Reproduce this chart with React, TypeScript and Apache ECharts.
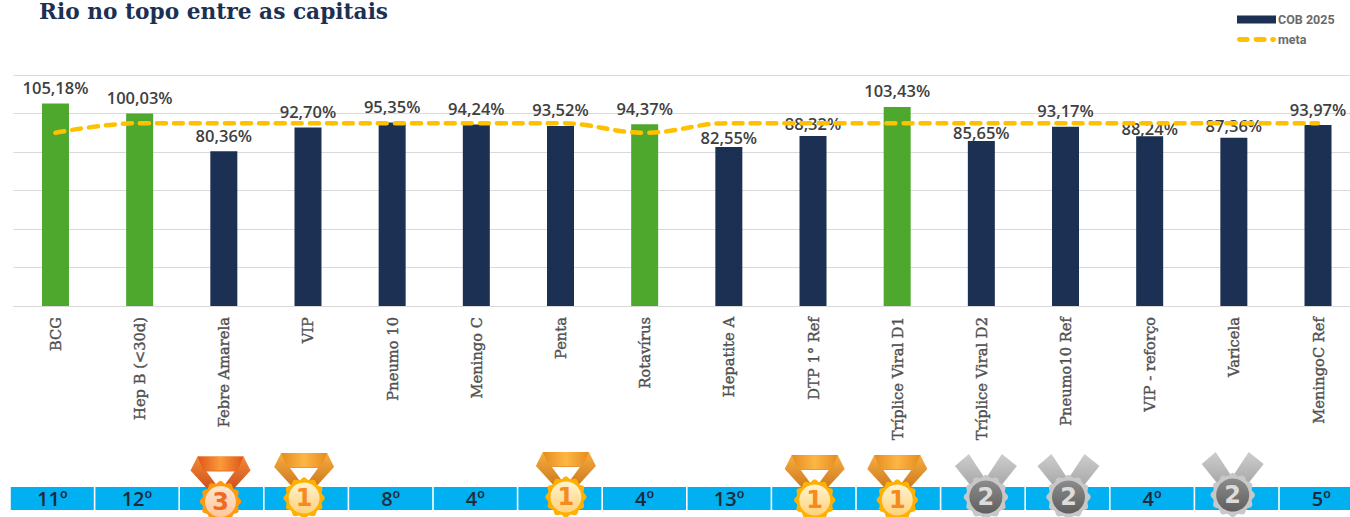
import React, { useEffect, useRef } from "react";
import * as echarts from "echarts";

const categories = ["BCG","Hep B (<30d)","Febre Amarela","VIP","Pneumo 10","Meningo C","Penta","Rotavírus","Hepatite A","DTP 1° Ref","Tríplice Viral D1","Tríplice Viral D2","Pneumo10 Ref","VIP - reforço","Varicela","MeningoC Ref"];
const cob2025 = [105.18,100.03,80.36,92.70,95.35,94.24,93.52,94.37,82.55,88.32,103.43,85.65,93.17,88.24,87.36,93.97];
const meta = [90,95,95,95,95,95,95,90,95,95,95,95,95,95,95,95];
const highlighted = [true,true,false,false,false,false,false,true,false,false,true,false,false,false,false,false];
const rankings = [11,12,3,1,8,4,1,4,13,1,1,2,2,4,2,5];
const medalled = [false,false,true,true,false,false,true,false,false,true,true,true,true,false,true,false];
const medalNudge: Record<number, [number, number]> = {2:[-1,4.5],3:[-2,1],6:[6,0],9:[1,3],10:[-1,3],11:[3,0],12:[1,0],14:[-4,-2]};
const labelNudge: Record<number, number> = {8:6,9:4,11:7,13:8,14:4};

const NAVY = "#1c3053", GREEN = "#4fa82e", GOLD = "#FFC000", BLUE = "#00b0f0";
const LABEL = "Open Sans", SERIF = "DejaVu Serif";
const metaIcon = "path://M0,0L0,0Z M0,8L0,8Z M2.5,1.5H10.5A2.5,2.5 0 0 1 10.5,6.5H2.5A2.5,2.5 0 0 1 2.5,1.5Z M19.5,1.5H28A2.5,2.5 0 0 1 28,6.5H19.5A2.5,2.5 0 0 1 19.5,1.5Z M36.5,1.5H37.5A2.5,2.5 0 0 1 37.5,6.5H36.5A2.5,2.5 0 0 1 36.5,1.5Z M40,0L40,0Z";

const palettes: Record<number, any> = {
  1: { band: ["#e58c1f","#fdb645","#e58c1f"], side: ["#f7ad3e","#c9741c"], edge: "#ffb000", face: ["#fff3cf","#ffd27a"], digit: "#f58a1e", r: 19.5, ri: 15.5 },
  2: { side: ["#cdcdcd","#a2a2a2"], edge: "#c8c8c8", face: ["#8c8c8c","#5f5f5f"], digit: "#dcdcdc", r: 21, ri: 16.5 },
  3: { band: ["#dd5518","#fb9a3a","#dd5518"], side: ["#f58a35","#c8481a"], edge: "#ff9a10", face: ["#ffe6d0","#ffc79c"], digit: "#f26a22", r: 19.5, ri: 15.5 },
};
const vgrad = (c: string[]) => new echarts.graphic.LinearGradient(0, 0, 0, 1, [{ offset: 0, color: c[0] }, { offset: 1, color: c[1] }]);
const hgrad = (c: string[]) => new echarts.graphic.LinearGradient(0, 0, 1, 0, c.map((color, i) => ({ offset: i / (c.length - 1), color })));

function renderMedal(params: any, api: any) {
  const idx = api.value(0);
  const rank = api.value(2);
  const [px] = api.coord([idx, 0]);
  const n = medalNudge[idx] || [0, 0];
  const cx = px + n[0], cy = 497 + n[1];
  const p = palettes[rank];
  const outer: number[][] = [];
  for (let i = 0; i < 72; i++) {
    const a = (i / 72) * Math.PI * 2;
    const r = p.r + 1.3 * Math.cos(a * 12);
    outer.push([cx + r * Math.sin(a), cy + r * Math.cos(a)]);
  }
  const ribbon = rank === 2
    ? [
        { type: "polygon", shape: { points: [[cx-31,cy-31],[cx-17,cy-43],[cx+2,cy-14],[cx-11,cy-6]] }, style: { fill: vgrad(p.side) } },
        { type: "polygon", shape: { points: [[cx+31,cy-31],[cx+16,cy-43],[cx-3,cy-14],[cx+11,cy-6]] }, style: { fill: vgrad(p.side) } },
      ]
    : [
        { type: "polygon", shape: { points: [[cx-23,cy-45],[cx+23,cy-45],[cx+30,cy-31],[cx+9,cy-8],[cx-9,cy-8],[cx-30,cy-31]] }, style: { fill: vgrad(p.side) } },
        { type: "polygon", shape: { points: [[cx-14,cy-30],[cx+14,cy-30],[cx,cy-11]] }, style: { fill: "#ffffff" } },
        { type: "polygon", shape: { points: [[cx-23,cy-45],[cx+23,cy-45],[cx+17,cy-31],[cx-17,cy-31]] }, style: { fill: hgrad(p.band) } },
      ];
  return {
    type: "group",
    children: [
      ...ribbon,
      { type: "polygon", shape: { points: outer }, style: { fill: p.edge } },
      { type: "circle", shape: { cx, cy, r: p.ri }, style: { fill: vgrad(p.face) } },
      { type: "text", style: { x: cx, y: cy, text: String(rank), fill: p.digit, align: "center", verticalAlign: "middle", font: "bold 24px 'DejaVu Sans'" } },
    ],
  };
}

export default function App() {
  const ref = useRef<HTMLDivElement>(null);
  useEffect(() => {
    const chart = echarts.init(ref.current!, undefined, { renderer: "svg" });
    chart.setOption({
      animation: false,
      backgroundColor: "#ffffff",
      title: { text: "Rio no topo entre as capitais", left: 34, top: -5, textStyle: { fontFamily: SERIF, fontSize: 21.7, fontWeight: "bold", color: NAVY } },
      legend: {
        orient: "vertical", left: 1232, top: 8, itemWidth: 39, itemHeight: 8, itemGap: 7,
        textStyle: { fontFamily: "Roboto", fontSize: 12.5, fontWeight: "bold", color: "#6b6b6b", padding: [0, 0, 0, -3] },
        data: [{ name: "COB 2025", icon: "rect" }, { name: "meta", icon: metaIcon }],
      },
      grid: [
        { left: 13.4, top: 75, width: 1346.7, height: 231, outerBoundsMode: "none" },
        { left: 10, top: 487, width: 1353.6, height: 23, outerBoundsMode: "none" },
      ],
      xAxis: [
        { type: "category", gridIndex: 0, data: categories, axisTick: { show: false }, axisLine: { lineStyle: { color: "#d9d9d9" } },
          axisLabel: { rotate: 90, interval: 0, margin: 11, fontFamily: SERIF, fontSize: 14.7, color: "#505050", textBorderColor: "#505050", textBorderWidth: 0.4 } },
        { type: "category", gridIndex: 1, data: categories, show: false },
      ],
      yAxis: [
        { type: "value", gridIndex: 0, min: 0, max: 120, interval: 20, axisLabel: { show: false }, axisTick: { show: false }, axisLine: { show: false }, splitLine: { lineStyle: { color: "#d9d9d9" } } },
        { type: "value", gridIndex: 1, min: 0, max: 1, show: false, splitLine: { show: false } },
      ],
      series: [
        {
          name: "COB 2025", type: "bar", barWidth: 27, xAxisIndex: 0, yAxisIndex: 0, itemStyle: { color: NAVY }, z: 2,
          data: cob2025.map((v, i) => ({
            value: v,
            itemStyle: highlighted[i] ? { color: GREEN } : undefined,
            label: { offset: [0, labelNudge[i] || 0] },
          })),
          label: { show: true, position: "top", distance: 7.5, fontFamily: LABEL, fontSize: 16.5, fontWeight: 600, color: "#404040",
            formatter: (p: any) => p.value.toFixed(2).replace(".", ",") + "%" },
        },
        {
          name: "meta", type: "line", xAxisIndex: 0, yAxisIndex: 0, data: meta, smooth: 0.4, symbol: "none", z: 3,
          lineStyle: { color: GOLD, width: 4.5, type: [9, 8], cap: "round" }, itemStyle: { color: GOLD },
        },
        {
          type: "bar", xAxisIndex: 1, yAxisIndex: 1, barWidth: 83, itemStyle: { color: BLUE }, silent: true,
          data: rankings.map((r, i) => ({ value: 1, label: { show: !medalled[i], formatter: r + "º" } })),
          label: { show: true, position: "inside", fontFamily: "Open Sans", fontSize: 20, fontWeight: 600, color: "#1f2a3a" },
        },
        {
          type: "custom", xAxisIndex: 1, yAxisIndex: 1, clip: false, silent: true, z: 5, renderItem: renderMedal,
          encode: { x: 0, y: 1 },
          data: rankings.map((r, i) => [i, 0.5, r]).filter((_, i) => medalled[i]),
        },
      ],
    });
    return () => chart.dispose();
  }, []);
  return <div ref={ref} style={{ position: "fixed", left: 0, top: 0, width: 1350, height: 517, overflow: "hidden" }} />;
}
